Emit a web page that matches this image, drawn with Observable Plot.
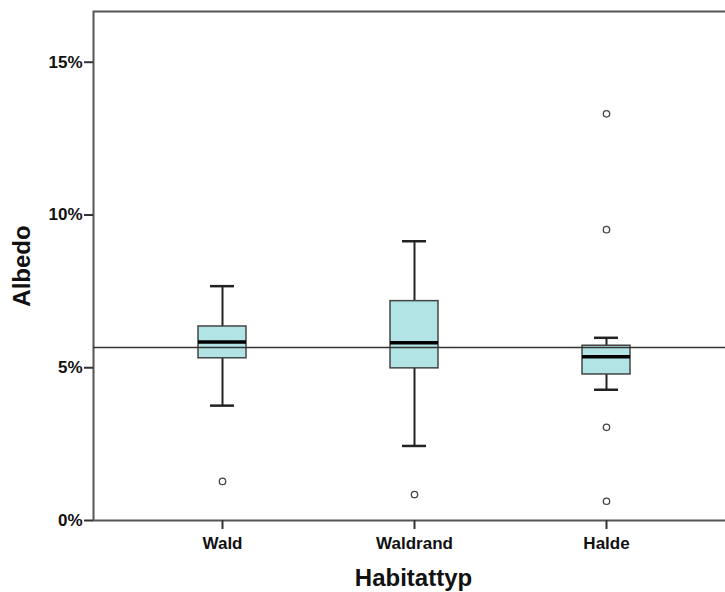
<!DOCTYPE html>
<html><head><meta charset="utf-8">
<script src="https://cdn.jsdelivr.net/npm/d3@7"></script>
<script src="https://cdn.jsdelivr.net/npm/@observablehq/plot@0.6"></script>
<style>html,body{margin:0;padding:0;overflow:hidden;background:#fff} svg{max-width:none !important} svg text{font-weight:bold}</style>
</head><body><div id="chart"></div>
<script>
const categories = ["Wald", "Waldrand", "Halde"];
const whiskerLow = [3.76, 2.44, 4.28];
const q1 = [5.31, 4.98, 4.78];
const median = [5.84, 5.82, 5.36];
const q3 = [6.35, 7.18, 5.72];
const whiskerHigh = [7.67, 9.14, 5.98];
const outlierCategory = ["Wald", "Waldrand", "Halde", "Halde", "Halde", "Halde"];
const outlierValue = [1.28, 0.85, 13.31, 9.52, 3.05, 0.63];
const referenceValue = 5.66;
const yTicks = [0, 5, 10, 15];
const yMax = 16.66;
const xTitle = "Habitattyp";
const yTitle = "Albedo";

const boxes = categories.map((c, i) => ({cat: c, lo: whiskerLow[i], q1: q1[i], med: median[i], q3: q3[i], hi: whiskerHigh[i]}));
const outliers = outlierCategory.map((c, i) => ({cat: c, v: outlierValue[i]}));

const chart = Plot.plot({
  width: 727, height: 592,
  marginLeft: 93, marginRight: 0, marginTop: 11, marginBottom: 72,
  style: {fontFamily: "'Liberation Sans', Arial, sans-serif", background: "#fff", color: "#111", maxWidth: "none"},
  x: {type: "band", domain: categories, paddingInner: 0.7506, paddingOuter: 0.522, align: 0.5174},
  y: {domain: [0, yMax]},
  marks: [
    Plot.frame({stroke: "#555", strokeWidth: 2}),
    Plot.axisY({ticks: yTicks, tickFormat: d => d + "%", tickSize: 9, tickPadding: 2, label: null, fontSize: 17, stroke: "#333", strokeWidth: 2}),
    Plot.axisX({tickSize: 9, tickPadding: 7, label: null, fontSize: 17, stroke: "#333", strokeWidth: 2}),
    Plot.ruleX(boxes, {x: "cat", y1: "lo", y2: "q1", stroke: "#222", strokeWidth: 2}),
    Plot.ruleX(boxes, {x: "cat", y1: "q3", y2: "hi", stroke: "#222", strokeWidth: 2}),
    Plot.tickY(boxes, {x: "cat", y: "lo", insetLeft: 12, insetRight: 12, stroke: "#222", strokeWidth: 2.5}),
    Plot.tickY(boxes, {x: "cat", y: "hi", insetLeft: 12, insetRight: 12, stroke: "#222", strokeWidth: 2.5}),
    Plot.barY(boxes, {x: "cat", y1: "q1", y2: "q3", fill: "#b3e4e5", stroke: "#444", strokeWidth: 1.5}),
    Plot.ruleY([referenceValue], {stroke: "#333", strokeWidth: 1.5}),
    Plot.tickY(boxes, {x: "cat", y: "med", stroke: "#000", strokeWidth: 3.5}),
    Plot.dot(outliers, {x: "cat", y: "v", r: 3.2, stroke: "#444", fill: "white", strokeWidth: 1.3}),
    Plot.text([xTitle], {text: d => d, frameAnchor: "bottom", textAnchor: "middle", dx: 3, dy: 65, fontSize: 24, fontWeight: "bold", fill: "#111"}),
    Plot.text([yTitle], {text: d => d, frameAnchor: "left", textAnchor: "middle", dx: -71, rotate: -90, fontSize: 24, fontWeight: "bold", fill: "#111"})
  ]
});
document.getElementById("chart").appendChild(chart);
</script>
</body></html>
